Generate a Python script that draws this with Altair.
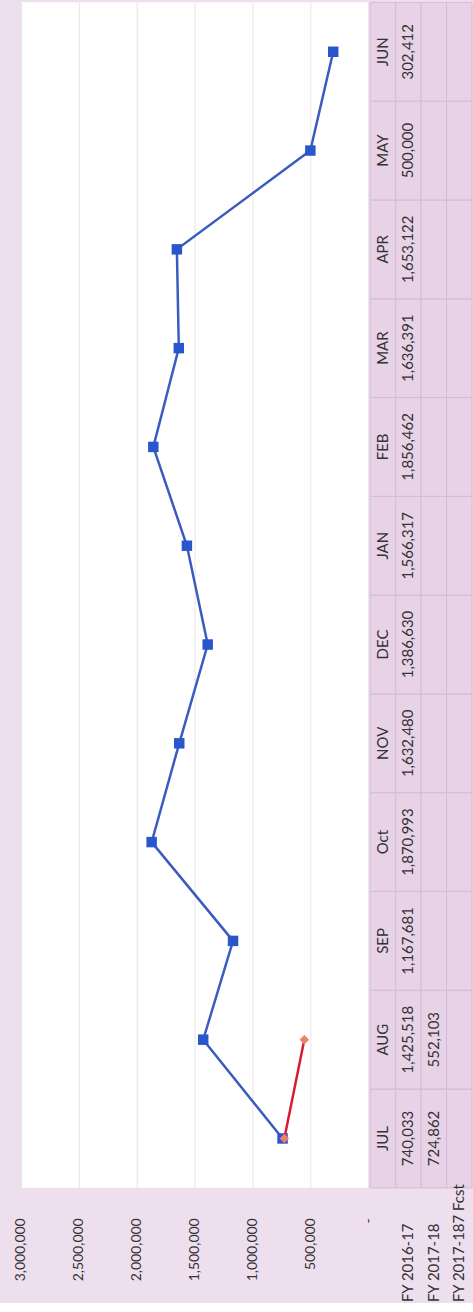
import altair as alt
import pandas as pd

months = ["JUL", "AUG", "SEP", "Oct", "NOV", "DEC", "JAN", "FEB", "MAR", "APR", "MAY", "JUN"]
fy1617 = [740033, 1425518, 1167681, 1870993, 1632480, 1386630, 1566317, 1856462, 1636391, 1653122, 500000, 302412]
fy1718 = [724862, 552103]
row_labels = ["FY 2016-17", "FY 2017-18", "FY 2017-187 Fcst"]
axis_ticks = [0, 500000, 1000000, 1500000, 2000000, 2500000, 3000000]

FONT = "Lato"
TXT = "#333333"
month_order = months[::-1]

line_df = pd.DataFrame({
    "month": months + months[:len(fy1718)],
    "value": fy1617 + fy1718,
    "series": [row_labels[0]] * len(fy1617) + [row_labels[1]] * len(fy1718),
    "idx": list(range(len(fy1617))) + list(range(len(fy1718))),
})

x_enc = alt.X(
    "value:Q",
    scale=alt.Scale(domain=[0, 3000000], reverse=True, nice=False, zero=True),
    axis=alt.Axis(
        values=axis_ticks, labelAngle=270,
        labelExpr="datum.value == 0 ? '-' : format(datum.value, ',')",
        grid=True, gridColor="#e6e6e6", ticks=False, domain=False,
        labelPadding=30, labelFontSize=14, labelFont=FONT, labelColor=TXT,
        labelFlush=False, title=None,
    ),
)
y_enc = alt.Y("month:O", sort=month_order, axis=None,
              scale=alt.Scale(type="point", padding=0.5))

blue = alt.Chart(line_df[line_df.series == row_labels[0]]).mark_line(
    color="#3a5cc0", strokeWidth=2.5,
    point=alt.OverlayMarkDef(shape="square", size=110, filled=True, color="#2a56cc", opacity=1),
).encode(x=x_enc, y=y_enc, order="idx:Q")

red = alt.Chart(line_df[line_df.series == row_labels[1]]).mark_line(
    color="#d81c35", strokeWidth=2.5,
    point=alt.OverlayMarkDef(shape="diamond", size=90, filled=True, color="#f47c6a", opacity=1),
).encode(x=x_enc, y=y_enc, order="idx:Q")

plot = alt.layer(blue, red).properties(
    width=348, height=1188, view=alt.ViewBackground(fill="white", stroke=None)
)

cols = ["hdr"] + row_labels
cells = []
for i, m in enumerate(months):
    cells.append({"month": m, "col": "hdr", "txt": m})
    cells.append({"month": m, "col": row_labels[0], "txt": f"{fy1617[i]:,}"})
    cells.append({"month": m, "col": row_labels[1], "txt": f"{fy1718[i]:,}" if i < len(fy1718) else ""})
    cells.append({"month": m, "col": row_labels[2], "txt": ""})
cell_df = pd.DataFrame(cells)

tx = alt.X(
    "col:N", sort=cols,
    scale=alt.Scale(type="band", paddingInner=0, paddingOuter=0),
    axis=alt.Axis(
        orient="bottom", labelAngle=270, labelAlign="left", labelBaseline="middle",
        labelPadding=114, ticks=False, domain=False, grid=False,
        labelExpr="datum.label == 'hdr' ? '' : datum.label",
        labelFontSize=15, labelFont=FONT, labelColor=TXT, title=None,
    ),
)
ty = alt.Y("month:N", sort=month_order,
           scale=alt.Scale(type="band", paddingInner=0, paddingOuter=0), axis=None)

rects = alt.Chart(cell_df).mark_rect(fill="#e8d2e7", stroke="#d4bcd5", strokeWidth=1).encode(x=tx, y=ty)
texts = alt.Chart(cell_df).mark_text(angle=270, fontSize=15, font=FONT, color=TXT).encode(
    x=tx, y=ty, text="txt:N")

table = alt.layer(rects, texts).properties(
    width=102, height=1188, view=alt.ViewBackground(fill=None, stroke=None)
)

chart = alt.hconcat(plot, table, spacing=2, bounds="flush").properties(
    padding={"left": 14, "top": 0, "right": 0, "bottom": 0}
).configure(background="#eedfee").configure_view(stroke=None)

chart.save("out.html", embed_options={"renderer": "svg", "actions": False})
